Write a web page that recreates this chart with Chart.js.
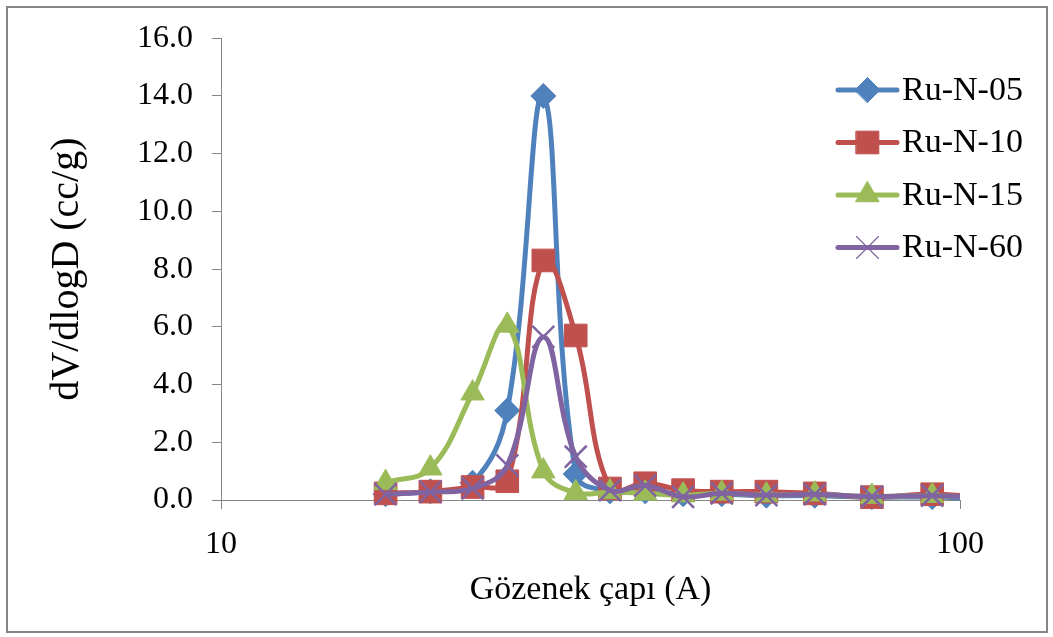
<!DOCTYPE html>
<html>
<head>
<meta charset="utf-8">
<script src="https://cdn.jsdelivr.net/npm/chart.js@4/dist/chart.umd.min.js"></script>
<style>
html,body{margin:0;padding:0;background:#fff}
#wrap{width:1053px;height:637px;position:relative}
</style>
</head>
<body>
<div id="wrap"><canvas id="c" width="1053" height="637"></canvas></div>
<script>
// ---- data ----
const poreDiameters = [16.7, 19.2, 21.9, 24.4, 27.3, 30.2, 33.6, 37.5, 42.2, 47.6, 54.7, 63.6, 76.0, 91.7, 110];
const ruN05 = [0.20, 0.30, 0.60, 3.10, 14.00, 0.90, 0.30, 0.30, 0.20, 0.20, 0.15, 0.15, 0.10, 0.10, 0.05];
const ruN10 = [0.23, 0.29, 0.45, 0.65, 8.30, 5.70, 0.40, 0.58, 0.34, 0.29, 0.29, 0.23, 0.10, 0.20, 0.07];
const ruN15 = [0.60, 1.10, 3.70, 6.05, 1.00, 0.25, 0.28, 0.23, 0.17, 0.23, 0.17, 0.20, 0.12, 0.15, 0.07];
const ruN60 = [0.20, 0.28, 0.40, 1.20, 5.65, 1.50, 0.34, 0.50, 0.11, 0.23, 0.17, 0.20, 0.12, 0.15, 0.07];
const seriesNames = ['Ru-N-05', 'Ru-N-10', 'Ru-N-15', 'Ru-N-60'];
const xTickValues = [10, 100];
const xTitle = 'Gözenek çapı (A)';
const yTitle = 'dV/dlogD (cc/g)';

const FONT = '"Liberation Serif", "Times New Roman", serif';
const AXIS_GRAY = '#868686';

function pts(vals) { return poreDiameters.map((x, i) => ({x: x, y: vals[i]})); }

const styles = [
  {color: '#4F81BD', pointStyle: 'rectRot', r: 12.5, bw: 1, legendBw: 1},
  {color: '#C0504D', pointStyle: 'rect', r: 16, bw: 1, legendBw: 1},
  {color: '#9BBB59', pointStyle: 'triangle', r: 13.5, bw: 1, legendBw: 1},
  {color: '#8064A2', pointStyle: 'crossRot', r: 15.5, bw: 2.5, legendBw: 1.2}
];
const seriesValues = [ruN05, ruN10, ruN15, ruN60];
const drawOrder = [3, 2, 1, 0];

const datasets = seriesValues.map((vals, i) => ({
  label: seriesNames[i],
  data: pts(vals),
  borderColor: styles[i].color,
  backgroundColor: styles[i].color,
  borderWidth: 5,
  tension: 0.4,
  pointStyle: styles[i].pointStyle,
  pointRadius: styles[i].r,
  pointBorderWidth: styles[i].bw,
  pointBackgroundColor: styles[i].color,
  pointBorderColor: styles[i].color,
  legendBw: styles[i].legendBw,
  order: drawOrder[i],
  clip: {left: 30, top: 30, right: 0, bottom: 30}
}));

const framePlugin = {
  id: 'frame',
  beforeDraw(chart) {
    const ctx = chart.ctx;
    ctx.save();
    ctx.fillStyle = '#fff';
    ctx.fillRect(0, 0, chart.width, chart.height);
    ctx.strokeStyle = AXIS_GRAY;
    ctx.lineWidth = 2;
    ctx.strokeRect(7, 7, 1040, 625);
    ctx.restore();
  }
};

const legendPlugin = {
  id: 'insideLegend',
  afterDatasetsDraw(chart) {
    const ctx = chart.ctx;
    const x0 = 838, len = 59, textX = 902, y0 = 90, dy = 52.5;
    chart.data.datasets.forEach((ds, i) => {
      const y = y0 + i * dy;
      ctx.save();
      ctx.strokeStyle = ds.borderColor;
      ctx.lineWidth = ds.borderWidth;
      ctx.lineCap = 'round';
      ctx.beginPath();
      ctx.moveTo(x0, y);
      ctx.lineTo(x0 + len, y);
      ctx.stroke();
      ctx.fillStyle = ds.pointBackgroundColor;
      ctx.strokeStyle = ds.pointBorderColor;
      ctx.lineWidth = ds.legendBw;
      Chart.helpers.drawPoint(ctx, {pointStyle: ds.pointStyle, radius: ds.pointRadius, borderWidth: ds.legendBw, rotation: 0}, x0 + len / 2, y);
      ctx.fillStyle = '#000';
      ctx.font = '34px ' + FONT;
      ctx.textAlign = 'left';
      ctx.textBaseline = 'middle';
      ctx.fillText(ds.label, textX, y + 1);
      ctx.restore();
    });
  }
};

new Chart(document.getElementById('c'), {
  type: 'line',
  data: {datasets: datasets},
  plugins: [framePlugin, legendPlugin],
  options: {
    responsive: false,
    animation: false,
    devicePixelRatio: 1,
    layout: {padding: {left: 0, top: 35, right: 93, bottom: 0}},
    plugins: {legend: {display: false}, tooltip: {enabled: false}},
    scales: {
      x: {
        type: 'logarithmic',
        min: 10,
        max: 100,
        afterBuildTicks(scale) { scale.ticks = xTickValues.map(v => ({value: v})); },
        afterFit(scale) { scale.height = 137; },
        ticks: {
          color: '#000',
          font: {family: FONT, size: 32},
          padding: 16,
          maxRotation: 0,
          autoSkip: false,
          callback: v => String(v)
        },
        grid: {drawOnChartArea: false, drawTicks: true, tickLength: 9, color: AXIS_GRAY},
        border: {display: true, color: AXIS_GRAY, width: 1},
        title: {display: true, text: xTitle, color: '#000', font: {family: FONT, size: 34}, padding: {top: 0, bottom: 27}}
      },
      y: {
        type: 'linear',
        min: 0,
        max: 16,
        afterFit(scale) { scale.width = 221; },
        ticks: {
          stepSize: 2,
          color: '#000',
          font: {family: FONT, size: 32},
          padding: 19,
          callback: v => Number(v).toFixed(1)
        },
        grid: {drawOnChartArea: false, drawTicks: true, tickLength: 9, color: AXIS_GRAY},
        border: {display: true, color: AXIS_GRAY, width: 1},
        title: {display: true, text: yTitle, color: '#000', font: {family: FONT, size: 40}, padding: {top: 43, bottom: 0}}
      }
    }
  }
});
</script>
</body>
</html>
